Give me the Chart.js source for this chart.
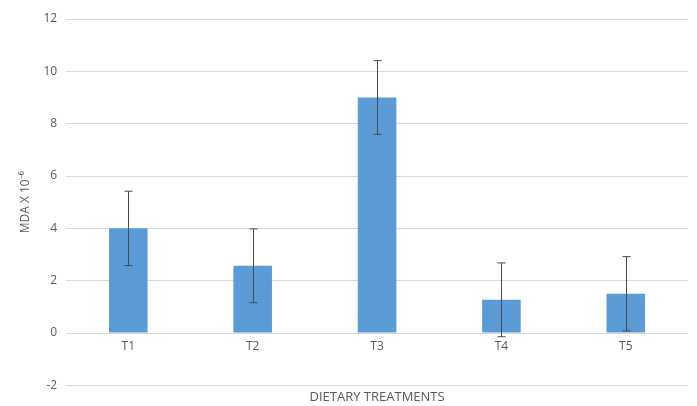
<!DOCTYPE html>
<html>
<head>
<meta charset="utf-8">
<script src="https://cdn.jsdelivr.net/npm/chart.js@4"></script>
<style>
html,body{margin:0;padding:0;background:#fff;}
#wrap{width:697px;height:406px;}
</style>
</head>
<body>
<div id="wrap"><canvas id="c"></canvas></div>
<script>
const categories = ["T1", "T2", "T3", "T4", "T5"];
const mdaValues = [4.0, 2.57, 9.0, 1.27, 1.5];
const mdaErrors = [1.42, 1.41, 1.41, 1.41, 1.42];
const yTicks = [-2, 0, 2, 4, 6, 8, 10, 12];

const errorBarPlugin = {
  id: 'errorBars',
  afterDatasetsDraw(chart) {
    const ctx = chart.ctx;
    const yScale = chart.scales.y;
    const meta = chart.getDatasetMeta(0);
    ctx.save();
    ctx.strokeStyle = '#4a4a4a';
    ctx.lineWidth = 1;
    meta.data.forEach((bar, i) => {
      const v = mdaValues[i], e = mdaErrors[i];
      const x = Math.round(bar.x) + 0.5;
      const yt = yScale.getPixelForValue(v + e);
      const yb = yScale.getPixelForValue(v - e);
      ctx.beginPath();
      ctx.moveTo(x, yt); ctx.lineTo(x, yb);
      ctx.moveTo(x - 4, yt); ctx.lineTo(x + 4, yt);
      ctx.moveTo(x - 4, yb); ctx.lineTo(x + 4, yb);
      ctx.stroke();
    });
    ctx.restore();
  }
};

const fontFam = "'Open Sans', 'Segoe UI', sans-serif";
const grey = '#595959';

new Chart(document.getElementById('c'), {
  type: 'bar',
  data: {
    labels: categories,
    datasets: [{
      data: mdaValues,
      backgroundColor: '#5b9bd5',
      borderWidth: 0,
      barPercentage: 0.31,
      categoryPercentage: 1.0
    }]
  },
  options: {
    responsive: true,
    maintainAspectRatio: false,
    animation: false,
    layout: { padding: { top: 19, right: 9, left: 14, bottom: 0 } },
    plugins: { legend: { display: false }, tooltip: { enabled: false } },
    scales: {
      y: {
        min: -2, max: 12,
        afterBuildTicks(scale) { scale.ticks = yTicks.map(v => ({ value: v })); },
        grid: { color: '#d9d9d9', lineWidth: 1, drawTicks: false },
        border: { display: false },
        ticks: { color: grey, font: { family: fontFam, size: 12 }, padding: 9 },
        title: { display: true, text: 'MDA X 10⁻⁶', color: grey, font: { family: fontFam, size: 12 }, padding: { top: 4, bottom: 2 } }
      },
      x: {
        position: { y: 0 },
        grid: { display: false, drawTicks: false },
        border: { display: false },
        ticks: { color: grey, font: { family: fontFam, size: 12 }, padding: 6 }
      },
      x2: {
        type: 'category',
        position: 'bottom',
        grid: { display: false, drawTicks: false },
        border: { display: false },
        ticks: { display: false },
        title: { display: true, text: 'DIETARY TREATMENTS', color: grey, font: { family: fontFam, size: 13 }, padding: { top: 4, bottom: 1 } }
      }
    }
  },
  plugins: [errorBarPlugin]
});
</script>
</body>
</html>
